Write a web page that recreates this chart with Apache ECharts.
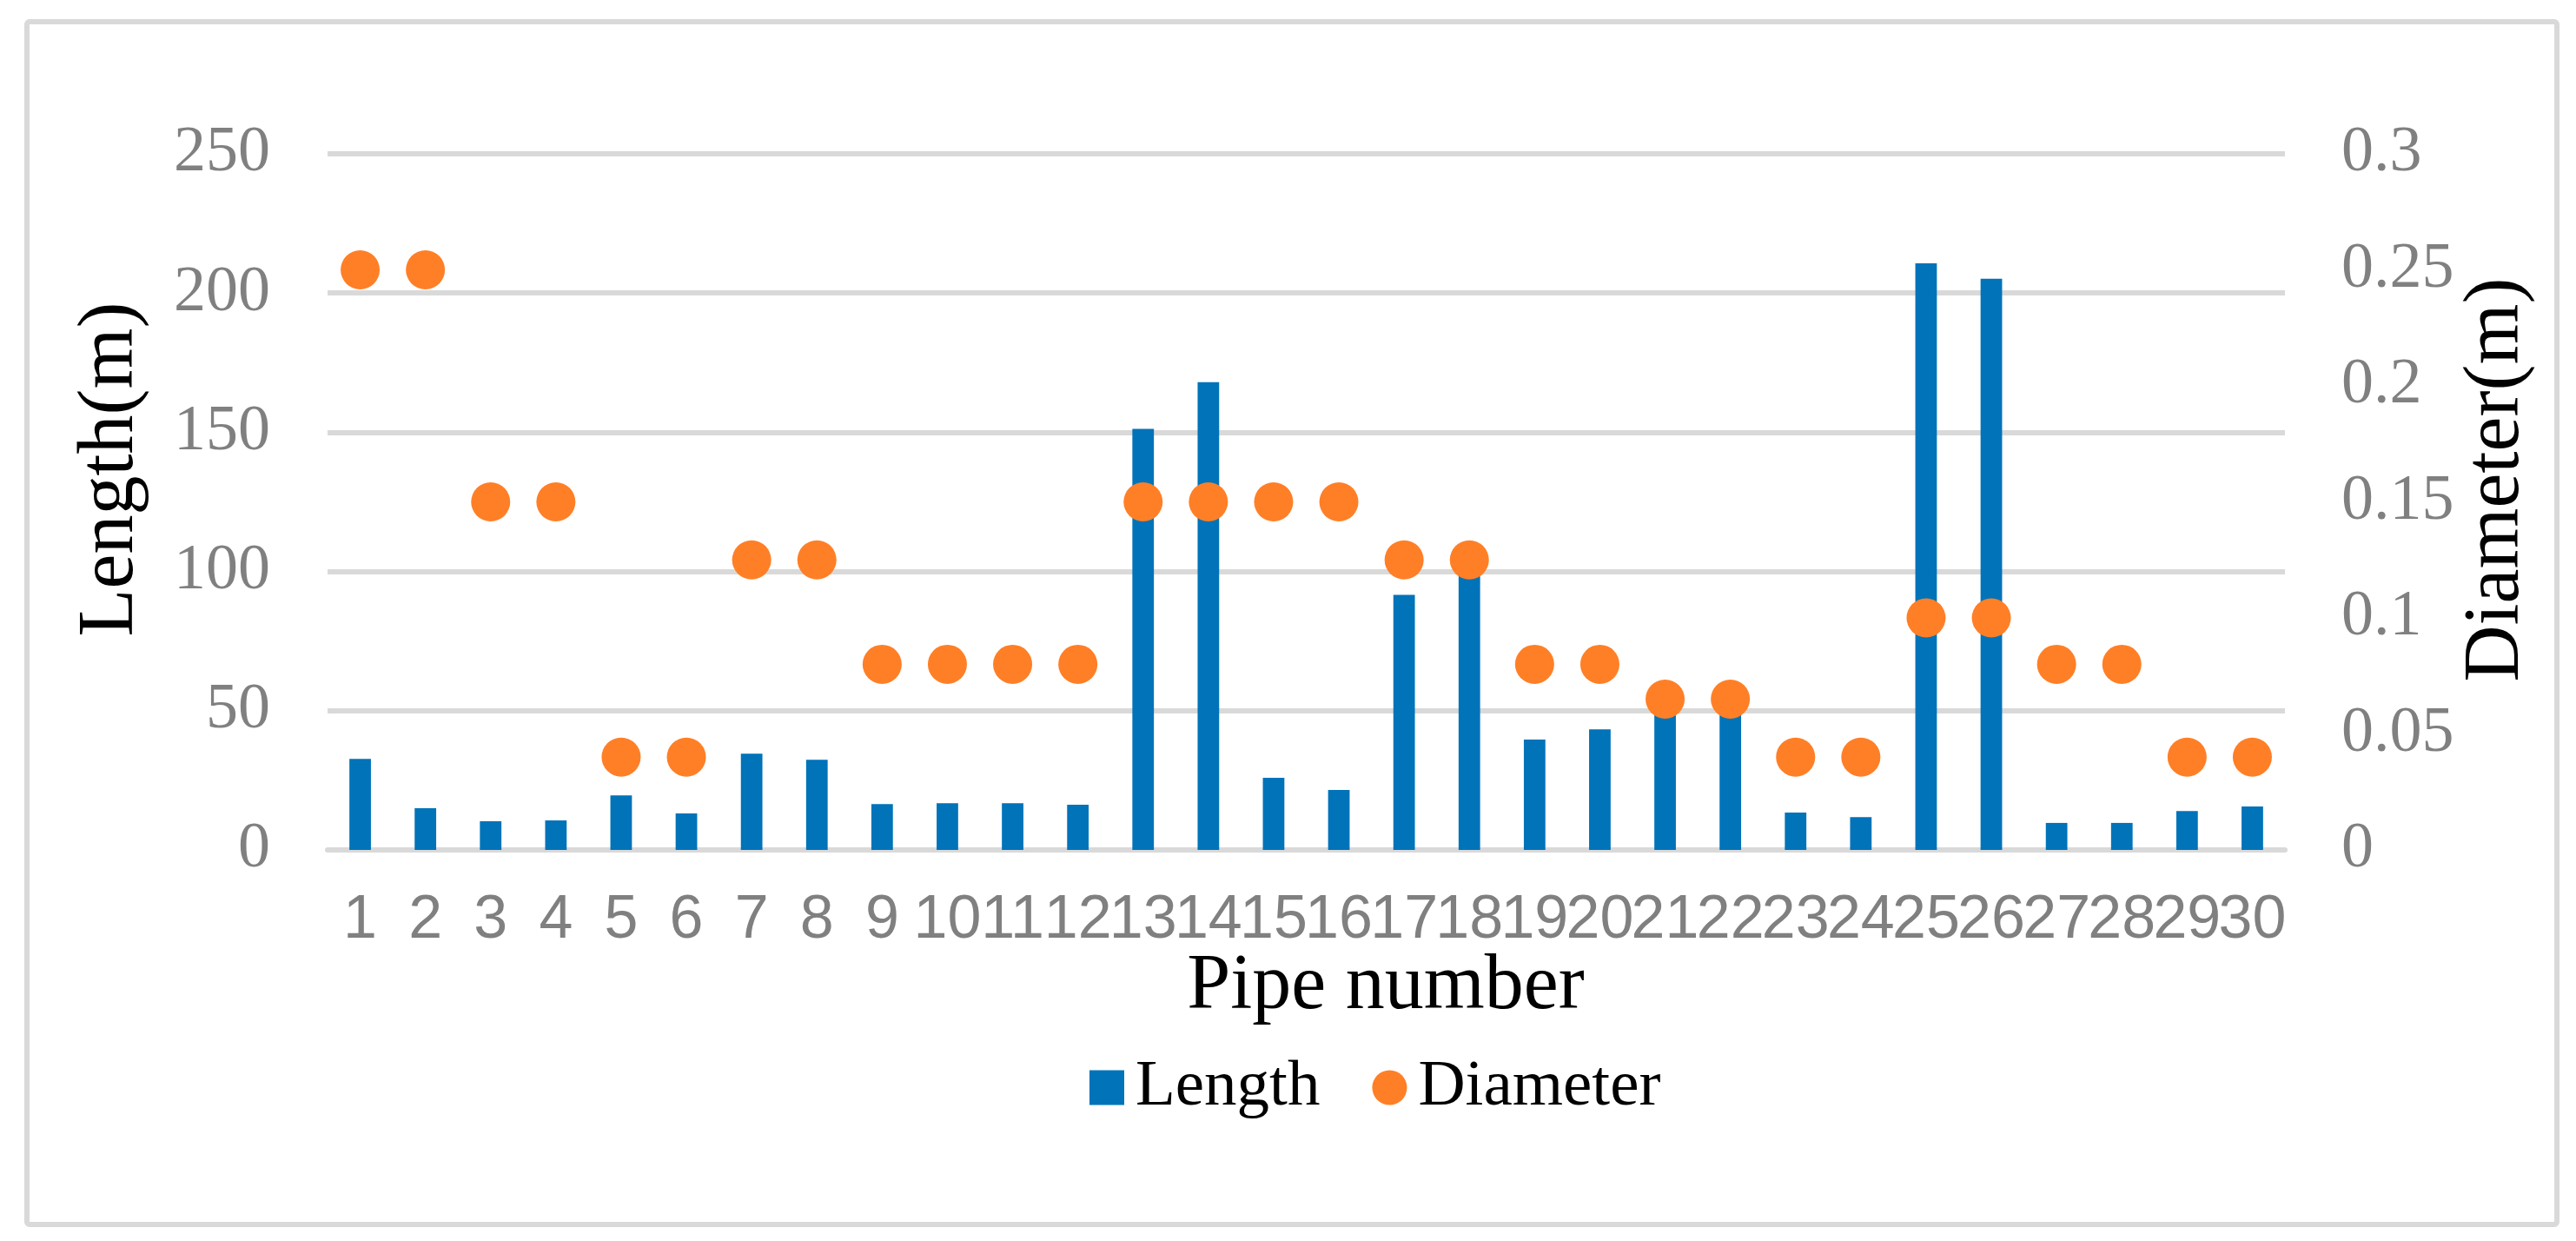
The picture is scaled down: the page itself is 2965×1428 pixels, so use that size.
<!DOCTYPE html>
<html>
<head>
<meta charset="utf-8">
<script src="https://cdn.jsdelivr.net/npm/echarts@6/dist/echarts.min.js"></script>
<style>
html,body{margin:0;padding:0;background:#fff;}
#chart{width:2965px;height:1428px;}
</style>
</head>
<body>
<div id="chart"></div>
<script>
const pipeNumbers = ['1','2','3','4','5','6','7','8','9','10','11','12','13','14','15','16','17','18','19','20','21','22','23','24','25','26','27','28','29','30'];
const lengthValues = [32.7, 15.0, 10.3, 10.6, 19.6, 13.1, 34.6, 32.4, 16.5, 16.8, 16.8, 16.2, 151.2, 168.0, 25.9, 21.5, 91.6, 101, 39.6, 43.3, 51, 52, 13.4, 11.8, 210.7, 205.1, 9.7, 9.7, 14.0, 15.6];
const diameterValues = [0.25, 0.25, 0.15, 0.15, 0.04, 0.04, 0.125, 0.125, 0.08, 0.08, 0.08, 0.08, 0.15, 0.15, 0.15, 0.15, 0.125, 0.125, 0.08, 0.08, 0.065, 0.065, 0.04, 0.04, 0.1, 0.1, 0.08, 0.08, 0.04, 0.04];
const lengthTicks = [0, 50, 100, 150, 200, 250];
const diameterTicks = [0, 0.05, 0.1, 0.15, 0.2, 0.25, 0.3];

const chart = echarts.init(document.getElementById('chart'), null, {renderer: 'canvas'});
const serif = '"Liberation Serif", "Times New Roman", serif';
const sans = '"Liberation Sans", Arial, sans-serif';
const gridColor = '#d9d9d9';
const tickGray = '#808080';

chart.setOption({
  backgroundColor: '#ffffff',
  animation: false,
  grid: {left: 377, right: 335, top: 177, bottom: 450, containLabel: false},
  xAxis: {
    type: 'category',
    data: pipeNumbers,
    axisLine: {show: true, lineStyle: {color: gridColor, width: 6}},
    axisTick: {show: false},
    axisLabel: {interval: 0, color: tickGray, fontFamily: sans, fontSize: 70, margin: 47}
  },
  yAxis: [
    {
      type: 'value',
      min: lengthTicks[0],
      max: lengthTicks[lengthTicks.length - 1],
      interval: lengthTicks[1] - lengthTicks[0],
      axisLine: {show: false},
      axisTick: {show: false},
      splitLine: {show: true, lineStyle: {color: gridColor, width: 6}},
      axisLabel: {color: tickGray, fontFamily: serif, fontSize: 74, margin: 66}
    },
    {
      type: 'value',
      position: 'right',
      min: diameterTicks[0],
      max: diameterTicks[diameterTicks.length - 1],
      interval: diameterTicks[1] - diameterTicks[0],
      axisLine: {show: false},
      axisTick: {show: false},
      splitLine: {show: false},
      axisLabel: {color: tickGray, fontFamily: serif, fontSize: 74, margin: 65,
        formatter: v => String(+v.toFixed(2))}
    }
  ],
  legend: {
    left: 1249,
    top: 1209,
    itemWidth: 40,
    itemHeight: 40,
    itemGap: 60,
    textStyle: {color: '#000', fontFamily: serif, fontSize: 75, padding: [0, 0, 0, 8]},
    data: [
      {name: 'Length', icon: 'rect'},
      {name: 'Diameter', icon: 'circle'}
    ]
  },
  graphic: [
    {type: 'rect', shape: {x: 31, y: 25, width: 2912, height: 1384, r: 3},
      style: {fill: 'none', stroke: gridColor, lineWidth: 6}, silent: true, z: -1},
    {type: 'text', x: 128, y: 540, rotation: Math.PI / 2,
      style: {text: 'Length(m)', font: '90px ' + serif, fill: '#000', align: 'center', verticalAlign: 'middle'}},
    {type: 'text', x: 2874, y: 552, rotation: Math.PI / 2,
      style: {text: 'Diameter(m)', font: '90px ' + serif, fill: '#000', align: 'center', verticalAlign: 'middle'}},
    {type: 'text', x: 1595, y: 1136,
      style: {text: 'Pipe number', font: '90px ' + serif, fill: '#000', align: 'center', verticalAlign: 'middle'}}
  ],
  series: [
    {
      name: 'Length',
      type: 'bar',
      yAxisIndex: 0,
      data: lengthValues,
      barWidth: '33%',
      itemStyle: {color: '#0073B9'},
      z: 2
    },
    {
      name: 'Diameter',
      type: 'scatter',
      yAxisIndex: 1,
      data: diameterValues,
      symbol: 'circle',
      symbolSize: 45,
      itemStyle: {color: '#FF7F27', opacity: 1},
      z: 3
    }
  ]
});
</script>
</body>
</html>
